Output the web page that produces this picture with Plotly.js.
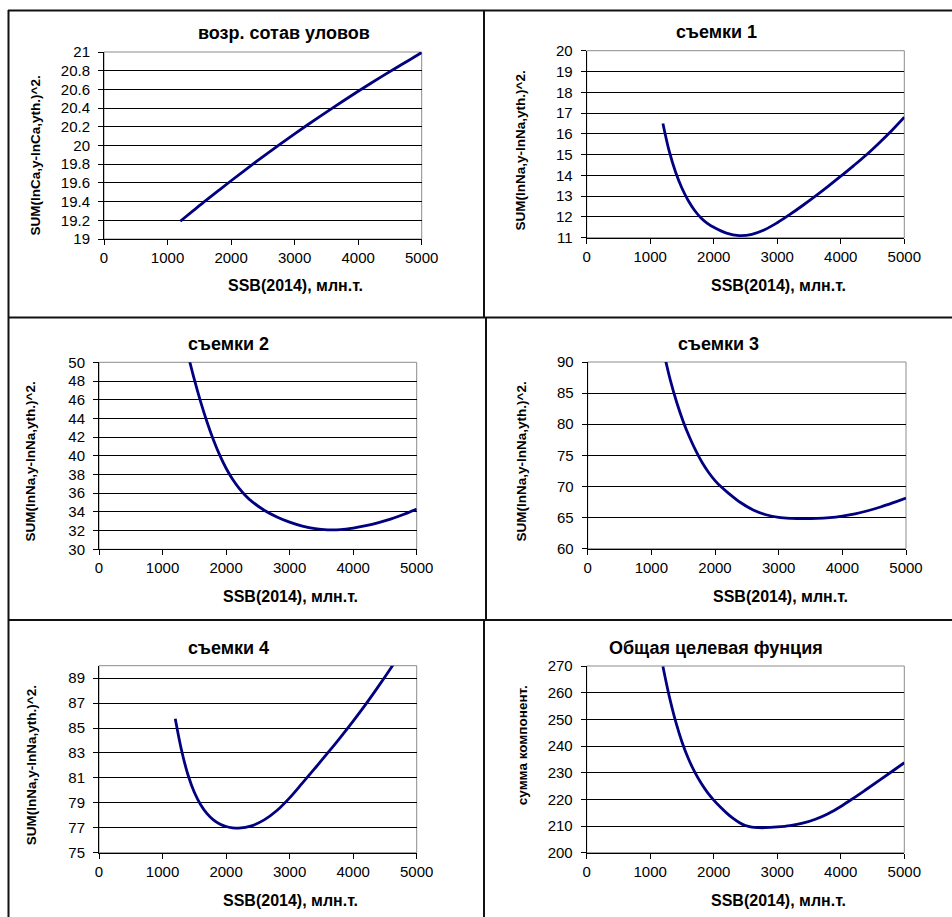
<!DOCTYPE html>
<html>
<head>
<meta charset="utf-8">
<script src="https://cdn.plot.ly/plotly-3.0.1.min.js"></script>
<style>html,body{margin:0;padding:0;background:#fff;}#chart{width:952px;height:917px;}</style>
</head>
<body>
<div id="chart"></div>
<script>
// ---- data ----
const titles = ["возр. сотав уловов", "съемки 1", "съемки 2", "съемки 3", "съемки 4", "Общая целевая фунция"];
const xTitle = "SSB(2014), млн.т.";
const yTitles = ["SUM(lnCa,y-lnCa,yth.)^2.", "SUM(lnNa,y-lnNa,yth.)^2.", "SUM(lnNa,y-lnNa,yth.)^2.",
                 "SUM(lnNa,y-lnNa,yth.)^2.", "SUM(lnNa,y-lnNa,yth.)^2.", "сумма компонент."];

const x_vozr = [1200,1400,1600,1800,2000,2200,2400,2600,2800,3000,3200,3400,3600,3800,4000,4200,4400,4600,4800,5000];
const y_vozr = [19.19,19.30,19.41,19.517,19.623,19.727,19.829,19.929,20.027,20.124,20.219,20.312,20.403,20.492,20.58,20.666,20.75,20.832,20.912,20.995];

const x_s1 = [1200,1300,1400,1500,1600,1700,1800,1900,2000,2200,2400,2600,2800,3000,3200,3400,3600,3800,4000,4200,4400,4600,4800,5000];
const y_s1 = [16.5,15.15,14.15,13.38,12.78,12.31,11.95,11.69,11.5,11.22,11.1,11.16,11.38,11.72,12.12,12.55,13.0,13.47,13.96,14.46,14.98,15.55,16.15,16.8];

const x_s2 = [1400,1500,1600,1700,1800,1900,2000,2100,2200,2300,2400,2600,2800,3000,3200,3400,3600,3800,4000,4200,4400,4600,4800,5000];
const y_s2 = [50.82,48.17,45.77,43.62,41.72,40.07,38.67,37.52,36.57,35.79,35.15,34.18,33.46,32.9,32.48,32.2,32.08,32.1,32.27,32.52,32.85,33.25,33.75,34.3];

const x_s3 = [1200,1300,1400,1500,1600,1700,1800,1900,2000,2100,2200,2400,2600,2800,3000,3200,3400,3600,3800,4000,4200,4400,4600,4800,5000];
const y_s3 = [91.3,87.0,83.45,80.45,77.9,75.7,73.8,72.25,70.95,69.9,69.02,67.42,66.22,65.46,65.02,64.86,64.82,64.86,65.0,65.25,65.6,66.1,66.7,67.4,68.15];

const x_s4 = [1200,1300,1400,1500,1600,1700,1800,1900,2000,2100,2200,2400,2600,2800,3000,3200,3400,3600,3800,4000,4200,4400,4600,4700];
const y_s4 = [85.75,83.2,81.25,79.85,78.85,78.13,77.63,77.3,77.1,77.0,76.97,77.15,77.63,78.38,79.4,80.58,81.78,83.0,84.26,85.56,86.92,88.36,89.86,90.64];

const x_tot = [1200,1300,1400,1500,1600,1700,1800,1900,2000,2100,2200,2300,2400,2500,2600,2700,2800,3000,3200,3400,3600,3800,4000,4200,4400,4600,4800,5000];
const y_tot = [269.8,258.6,249.2,241.5,235.3,230.3,226.1,222.6,219.7,217.2,214.95,212.95,211.35,210.2,209.6,209.4,209.37,209.65,210.15,211.05,212.55,214.65,217.35,220.45,223.7,227.0,230.35,233.75];

const seriesX = [x_vozr, x_s1, x_s2, x_s3, x_s4, x_tot];
const seriesY = [y_vozr, y_s1, y_s2, y_s3, y_s4, y_tot];
const yRanges = [[19,21],[11,20],[30,50],[60,90],[75,90],[200,270]];
const yDticks = [0.2, 1, 2, 5, 2, 10];
const xRange = [0, 5000];
const xDtick = 1000;

// ---- layout (pixel geometry) ----
const W = 952, H = 917;
const boxes = [
  {x0:104,   x1:421.7, y0:52,    y1:239,   t:[284,33],     xt:[295,285.5],   yt:[35.7,155.8]},
  {x0:586.7, x1:904.3, y0:50.7,  y1:237.7, t:[716.3,32],   xt:[778.8,285.5], yt:[520,150.5]},
  {x0:99,    x1:416.7, y0:362.3, y1:549.3, t:[228.7,344.3],xt:[290.3,596.7], yt:[30.8,461.7]},
  {x0:587.7, x1:906,   y0:362,   y1:548.7, t:[718,343.7],  xt:[780.3,596.7], yt:[521.7,461.7]},
  {x0:99,    x1:416.7, y0:665.7, y1:852.7, t:[228.7,647.7],xt:[290.3,900],   yt:[31.7,765.5]},
  {x0:586.7, x1:904.3, y0:666,   y1:852.7, t:[716.3,647.7],xt:[778.8,900],   yt:[522.2,745]}
];
const FONT = "Liberation Sans, Arial, Helvetica, sans-serif";
const px = v => v / W, py = v => 1 - v / H;

const layout = {
  width: W, height: H, margin: {l:0, r:0, t:0, b:0},
  paper_bgcolor: '#ffffff', plot_bgcolor: '#ffffff', showlegend: false,
  font: {family: FONT, color: '#000'},
  shapes: [], annotations: []
};
const data = [];

boxes.forEach((b, i) => {
  const n = i === 0 ? '' : String(i + 1);
  layout['xaxis' + n] = {
    domain: [px(b.x0), px(b.x1)], range: xRange, dtick: xDtick, tick0: 0,
    anchor: 'y' + n, showgrid: false, zeroline: false,
    showline: true, linecolor: '#000', linewidth: 1,
    ticks: 'outside', ticklen: 5, tickcolor: '#000', tickwidth: 1,
    tickfont: {family: FONT, size: 15, color: '#000'}, fixedrange: true
  };
  layout['yaxis' + n] = {
    domain: [py(b.y1), py(b.y0)], range: yRanges[i], dtick: yDticks[i], tick0: yRanges[i][0],
    anchor: 'x' + n, showgrid: true, gridcolor: '#000', gridwidth: 1, zeroline: false,
    showline: true, linecolor: '#000', linewidth: 1,
    ticks: 'outside', ticklen: 5, tickcolor: '#000', tickwidth: 1, ticklabelstandoff: 5,
    tickfont: {family: FONT, size: 15, color: '#000'}, fixedrange: true
  };
  layout.shapes.push({type:'rect', xref:'x' + n + ' domain', yref:'y' + n + ' domain',
    x0:0, x1:1, y0:0, y1:1, line:{color:'#8c8c8c', width:1}, layer:'below'});

  data.push({
    type: 'scatter', mode: 'lines', x: seriesX[i], y: seriesY[i],
    xaxis: 'x' + n, yaxis: 'y' + n, hoverinfo: 'skip',
    line: {color: '#000080', width: 2.8, shape: 'spline', smoothing: 1}
  });

  layout.annotations.push({text: '<b>' + titles[i] + '</b>', xref:'paper', yref:'paper',
    x: px(b.t[0]), y: py(b.t[1]), xanchor:'center', yanchor:'middle', showarrow:false,
    font:{family: FONT, size: 18, color:'#000'}});
  layout.annotations.push({text: '<b>' + xTitle + '</b>', xref:'paper', yref:'paper',
    x: px(b.xt[0]), y: py(b.xt[1]), xanchor:'center', yanchor:'middle', showarrow:false,
    font:{family: FONT, size: 16, color:'#000'}});
  layout.annotations.push({text: '<b>' + yTitles[i] + '</b>', xref:'paper', yref:'paper',
    x: px(b.yt[0]), y: py(b.yt[1]), xanchor:'center', yanchor:'middle', showarrow:false,
    textangle: -90, font:{family: FONT, size: 13.5, color:'#000'}});
});

// panel frame lines
const L = (x0, y0, x1, y1) => ({type:'line', xref:'paper', yref:'paper',
  x0: px(x0), y0: py(y0), x1: px(x1), y1: py(y1), line:{color:'#111', width:2}});
layout.shapes.push(L(8, 10.5, 952, 10.5));
layout.shapes.push(L(8.5, 10, 8.5, 917));
layout.shapes.push(L(8, 317.5, 952, 317.5));
layout.shapes.push(L(8, 620, 952, 620));
layout.shapes.push(L(484, 10, 484, 317.5));
layout.shapes.push(L(486, 317.5, 486, 620));
layout.shapes.push(L(484, 620, 484, 917));

Plotly.newPlot('chart', data, layout, {staticPlot: true, displayModeBar: false});
</script>
</body>
</html>
